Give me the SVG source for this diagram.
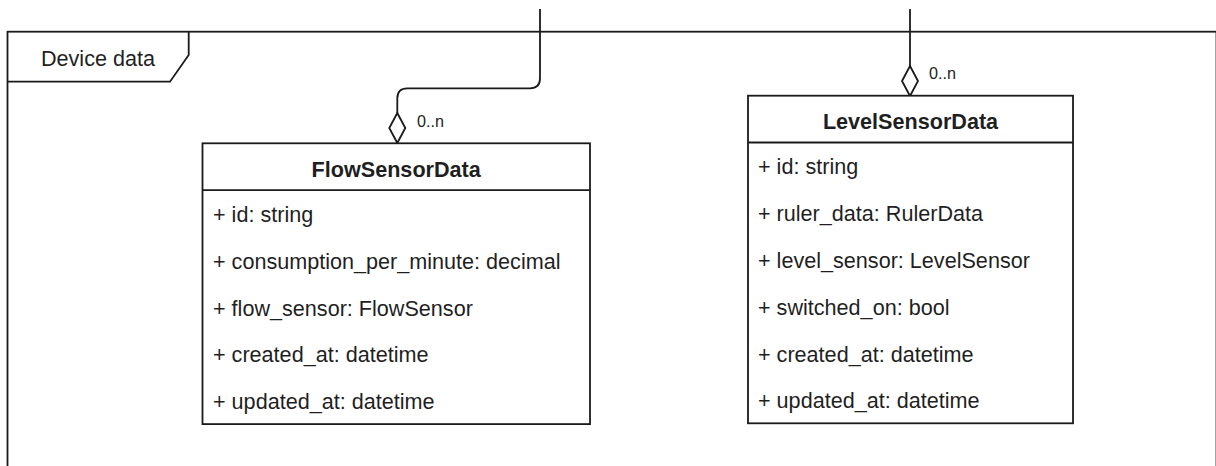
<svg xmlns="http://www.w3.org/2000/svg" width="1216" height="466" viewBox="0 0 1216 466">
<style>
.ln{fill:none;stroke:#1a1a1a;stroke-width:1.8}
.box{fill:#ffffff;stroke:#1a1a1a;stroke-width:1.8}
.t{font-family:"Liberation Sans",Arial,sans-serif;font-size:21.6px;fill:#1f1f1f}
.b{font-weight:bold;text-anchor:middle}
.lbl{font-family:"Liberation Sans",Arial,sans-serif;font-size:16.2px;fill:#1f1f1f}
.dia{fill:#ffffff;stroke:#1a1a1a;stroke-width:1.8}
</style>
<rect width="1216" height="466" fill="#ffffff"/>
<g id="frame">
<rect class="ln" x="7.5" y="31.7" width="1209" height="500"/>
<path class="ln" d="M7.5 81.7 H170 L188.7 55 V31.7"/>
<text class="t" x="98" y="65.7" text-anchor="middle">Device data</text>
</g>
<g id="connectors">
<path class="ln" d="M540 9 V78.3 Q540 88.3 530 88.3 H407.3 Q397.3 88.3 397.3 98.3 V113"/>
<path class="dia" d="M397.3 113 L405.3 128 L397.3 143 L389.3 128 Z"/>
<text class="lbl" x="417" y="127">0..n</text>
<path class="ln" d="M910 9 V66"/>
<path class="dia" d="M910 66 L918 81 L910 96 L902 81 Z"/>
<text class="lbl" x="929" y="79">0..n</text>
</g>
<g id="FlowSensorData">
<rect class="box" x="202.5" y="143.3" width="387.5" height="280.8"/>
<line class="ln" x1="202.5" y1="190.1" x2="590" y2="190.1"/>
<text class="t b" x="396.2" y="176.9">FlowSensorData</text>
<text class="t" x="213" y="221.9">+ id: string</text>
<text class="t" x="213" y="268.7">+ consumption_per_minute: decimal</text>
<text class="t" x="213" y="315.5">+ flow_sensor: FlowSensor</text>
<text class="t" x="213" y="362.3">+ created_at: datetime</text>
<text class="t" x="213" y="409.1">+ updated_at: datetime</text>
</g>
<g id="LevelSensorData">
<rect class="box" x="748" y="95.7" width="325" height="327.6"/>
<line class="ln" x1="748" y1="142.5" x2="1073" y2="142.5"/>
<text class="t b" x="910.5" y="129.3">LevelSensorData</text>
<text class="t" x="758" y="174.3">+ id: string</text>
<text class="t" x="758" y="221.1">+ ruler_data: RulerData</text>
<text class="t" x="758" y="267.9">+ level_sensor: LevelSensor</text>
<text class="t" x="758" y="314.7">+ switched_on: bool</text>
<text class="t" x="758" y="361.5">+ created_at: datetime</text>
<text class="t" x="758" y="408.3">+ updated_at: datetime</text>
</g>
</svg>
